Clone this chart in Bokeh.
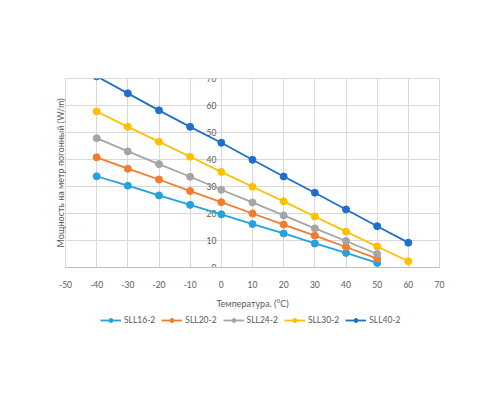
from bokeh.plotting import figure
from bokeh.layouts import column
from bokeh.models import Range1d, SingleIntervalTicker, Legend, LegendItem, Title
from bokeh.core.properties import value
from bokeh.embed import file_html
from bokeh.resources import INLINE

temps = [-40, -30, -20, -10, 0, 10, 20, 30, 40, 50, 60]
sll16 = [33.8, 30.3, 26.7, 23.2, 19.7, 16.1, 12.6, 8.9, 5.4, 1.7]
sll20 = [40.8, 36.6, 32.6, 28.3, 24.2, 20.0, 15.9, 11.8, 7.6, 3.3]
sll24 = [47.9, 43.0, 38.3, 33.6, 28.8, 24.1, 19.3, 14.5, 9.8, 5.0]
sll30 = [57.8, 52.1, 46.6, 41.0, 35.4, 29.9, 24.5, 18.9, 13.3, 7.8, 2.3]
sll40 = [70.8, 64.5, 58.2, 52.1, 46.2, 39.9, 33.7, 27.7, 21.5, 15.3, 9.2]
names = ["SLL16-2", "SLL20-2", "SLL24-2", "SLL30-2", "SLL40-2"]
colors = ["#22A2DF", "#F47B2C", "#A5A5A5", "#FFC000", "#1F6FCC"]
x_ticks = [-50, -40, -30, -20, -10, 0, 10, 20, 30, 40, 50, 60, 70]
y_ticks = [0, 10, 20, 30, 40, 50, 60, 70]

FONT = "Lato"
GREY = "#595959"

p = figure(width=484, height=312, output_backend="svg", toolbar_location=None,
           x_range=Range1d(-50, 70), y_range=Range1d(0, 70),
           min_border_left=65, min_border_right=45, min_border_top=78, min_border_bottom=45)
p.outline_line_color = "#d9d9d9"

p.xaxis.ticker = SingleIntervalTicker(interval=10)
p.xgrid.ticker = SingleIntervalTicker(interval=10)
p.ygrid.ticker = SingleIntervalTicker(interval=10)
p.xgrid.grid_line_color = "#d9d9d9"
p.ygrid.grid_line_color = "#d9d9d9"
p.xaxis.axis_line_color = "#bfbfbf"
p.xaxis.major_tick_line_color = None
p.xaxis.minor_tick_line_color = None
p.xaxis.major_label_overrides = {t: str(t) for t in x_ticks}
p.xaxis.major_label_standoff = 7
p.xaxis.major_label_text_font = FONT
p.xaxis.major_label_text_font_size = "8.5px"
p.xaxis.major_label_text_color = GREY
p.xaxis.axis_label = "Температура. (°C)"
p.xaxis.axis_label_text_font = FONT
p.xaxis.axis_label_text_font_size = "9px"
p.xaxis.axis_label_text_font_style = "normal"
p.xaxis.axis_label_text_color = GREY
p.xaxis.axis_label_standoff = 7
p.yaxis.visible = False

p.add_layout(Title(text="Мощность на метр погонный (W/m)", align="center",
                   text_font=FONT, text_font_size="9px", text_font_style="normal",
                   text_color=GREY, standoff=0), "left")

# y tick labels sit on the vertical axis at x = 0
p.text(x=[0] * len(y_ticks), y=y_ticks, text=[str(t) for t in y_ticks],
       x_offset=-5, text_align="right", text_baseline="middle",
       text_font=value(FONT), text_font_size="8.5px", text_color=GREY)

for col, ys in zip(colors, [sll16, sll20, sll24, sll30, sll40]):
    xs = temps[:len(ys)]
    p.line(xs, ys, line_color=col, line_width=1.8)
    p.scatter(xs, ys, size=7, marker="circle", fill_color=col, line_color=col)

# legend strip under the chart (proxy renderers sit outside the visible range)
lf = figure(width=484, height=72, output_backend="svg", toolbar_location=None,
            x_range=Range1d(0, 1), y_range=Range1d(0, 1),
            x_axis_location=None, y_axis_location=None,
            min_border_left=0, min_border_right=0, min_border_top=0, min_border_bottom=0)
lf.grid.visible = False
lf.outline_line_color = None
items = []
for name, col in zip(names, colors):
    r1 = lf.line([-5, -4], [-5, -5], line_color=col, line_width=1.8)
    r2 = lf.scatter([-5], [-5], size=7, marker="circle", fill_color=col, line_color=col)
    items.append(LegendItem(label=name, renderers=[r1, r2]))
legend = Legend(items=items, orientation="horizontal", location=(35, 59),
                glyph_width=21, glyph_height=10, label_standoff=3, spacing=6, padding=0,
                margin=0, label_text_font=FONT, label_text_font_size="8.5px",
                label_text_color=GREY, label_height=10, border_line_color=None,
                background_fill_alpha=0)
lf.add_layout(legend)

open("out.html", "w").write(file_html(column(p, lf, spacing=0), INLINE))
